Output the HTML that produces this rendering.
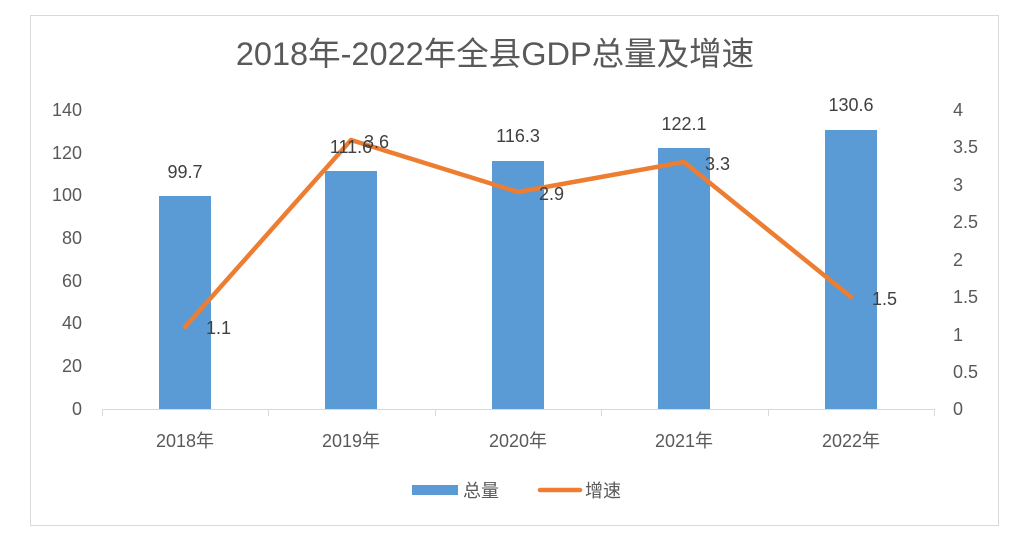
<!DOCTYPE html>
<html><head><meta charset="utf-8"><style>
html,body{margin:0;padding:0;background:#fff;}
svg text{font-family:"Liberation Sans","Noto Sans CJK SC",sans-serif;}
</style></head><body>
<svg width="1030" height="548" viewBox="0 0 1030 548" xmlns="http://www.w3.org/2000/svg">
<rect x="0" y="0" width="1030" height="548" fill="#fff"/>
<rect x="30.5" y="15.5" width="968" height="510" fill="#fff" stroke="#d9d9d9" stroke-width="1"/>
<text x="495" y="65" font-size="32.5" fill="#595959" text-anchor="middle">2018年-2022年全县GDP总量及增速</text>
<g font-size="18" fill="#595959">
<text x="82" y="116" text-anchor="end">140</text>
<text x="82" y="159" text-anchor="end">120</text>
<text x="82" y="201" text-anchor="end">100</text>
<text x="82" y="244" text-anchor="end">80</text>
<text x="82" y="287" text-anchor="end">60</text>
<text x="82" y="329" text-anchor="end">40</text>
<text x="82" y="372" text-anchor="end">20</text>
<text x="82" y="415" text-anchor="end">0</text>
<text x="953" y="116">4</text>
<text x="953" y="153">3.5</text>
<text x="953" y="191">3</text>
<text x="953" y="228">2.5</text>
<text x="953" y="266">2</text>
<text x="953" y="303">1.5</text>
<text x="953" y="341">1</text>
<text x="953" y="378">0.5</text>
<text x="953" y="415">0</text>
<text x="185" y="447" text-anchor="middle">2018年</text>
<text x="351" y="447" text-anchor="middle">2019年</text>
<text x="518" y="447" text-anchor="middle">2020年</text>
<text x="684" y="447" text-anchor="middle">2021年</text>
<text x="851" y="447" text-anchor="middle">2022年</text>
</g>
<line x1="102" y1="409.5" x2="934" y2="409.5" stroke="#d9d9d9"/>
<g stroke="#d9d9d9">
<line x1="102.5" y1="409" x2="102.5" y2="416"/><line x1="268.5" y1="409" x2="268.5" y2="416"/>
<line x1="435.5" y1="409" x2="435.5" y2="416"/><line x1="601.5" y1="409" x2="601.5" y2="416"/>
<line x1="768.5" y1="409" x2="768.5" y2="416"/><line x1="934.5" y1="409" x2="934.5" y2="416"/>
</g>
<g fill="#5b9bd5">
<rect x="159" y="196" width="52" height="213"/>
<rect x="325" y="171" width="52" height="238"/>
<rect x="492" y="161" width="52" height="248"/>
<rect x="658" y="148" width="52" height="261"/>
<rect x="825" y="130" width="52" height="279"/>
</g>
<polyline points="185,327 351,140 518,192 684,162 851,297" fill="none" stroke="#ed7d31" stroke-width="4.5" stroke-linejoin="round" stroke-linecap="round"/>
<g font-size="18" fill="#404040" text-anchor="middle">
<text x="185" y="178">99.7</text>
<text x="351" y="153">111.6</text>
<text x="518" y="142">116.3</text>
<text x="684" y="130">122.1</text>
<text x="851" y="111">130.6</text>
</g>
<g font-size="18" fill="#404040">
<text x="206" y="334">1.1</text>
<text x="364" y="148">3.6</text>
<text x="539" y="200">2.9</text>
<text x="705" y="170">3.3</text>
<text x="872" y="305">1.5</text>
</g>
<rect x="412" y="485" width="46" height="10" fill="#5b9bd5"/>
<text x="463" y="497" font-size="18" fill="#595959">总量</text>
<line x1="540" y1="490" x2="580" y2="490" stroke="#ed7d31" stroke-width="4.5" stroke-linecap="round"/>
<text x="585" y="497" font-size="18" fill="#595959">增速</text>
</svg>
</body></html>
